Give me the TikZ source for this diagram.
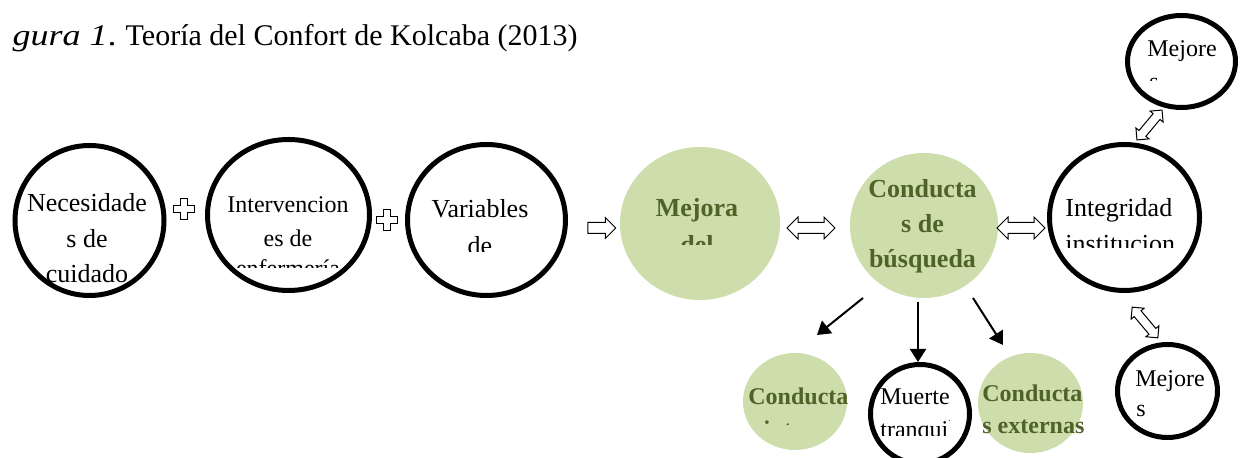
\documentclass[tikz,border=0pt]{standalone}
\usepackage{fontspec}
\setmainfont{Liberation Serif}
\usetikzlibrary{shapes.geometric,shapes.arrows,arrows.meta}
\definecolor{leaf}{HTML}{CDDDAC}
\definecolor{olive}{HTML}{4F6228}
\begin{document}
\begin{tikzpicture}[x=0.5pt,y=-0.5pt,
  ring/.style={ellipse, draw, line width=2.5pt, inner sep=0pt},
  ball/.style={ellipse, fill=leaf, draw=none, inner sep=0pt},
  big/.style={font=\fontsize{13}{15}\selectfont, inner sep=0pt, anchor=base},
  small/.style={font=\fontsize{12}{14}\selectfont, inner sep=0pt, anchor=base},
  bigb/.style={font=\fontsize{13}{15}\selectfont\bfseries, text=olive, inner sep=0pt, anchor=base},
  smallb/.style={font=\fontsize{12}{14}\selectfont\bfseries, text=olive, inner sep=0pt, anchor=base west},
  ttl/.style={font=\fontsize{15}{18}\selectfont, inner sep=0pt},
  arr/.style={line width=1pt, -{Triangle[length=6.5pt,width=8pt]}},
  blk/.style={draw, line width=0.5pt, fill=white, inner xsep=0pt, minimum width=0pt},
  sarr/.style={blk, single arrow, single arrow head extend=2.5pt, inner ysep=2.5pt},
  darr/.style={blk, double arrow, double arrow head extend=2.75pt, inner ysep=2.5pt},
  darrs/.style={blk, double arrow, double arrow head extend=2pt, inner ysep=2pt},
  plus/.pic={\draw[line width=0.5pt, fill=white] (-3.5,-10.5) -- (3.5,-10.5) -- (3.5,-3.5) -- (10.5,-3.5) -- (10.5,3.5) -- (3.5,3.5) -- (3.5,10.5) -- (-3.5,10.5) -- (-3.5,3.5) -- (-10.5,3.5) -- (-10.5,-3.5) -- (-3.5,-3.5) -- cycle;}
]
\useasboundingbox (0,0) rectangle (1249,458);

% title
\node[ttl, anchor=base east] (fig) at (117,46) {\scalebox{1.2}[1]{\textit{gura 1}.}};
\node[ttl, anchor=base east] (title) at (578,46) {Teoría del Confort de Kolcaba (2013)};

% circles
\node[ring, minimum width=74.5pt, minimum height=75pt] (nec) at (89.5,220.5) {};
\node[ring, minimum width=81pt, minimum height=75.5pt] (int) at (288.5,215) {};
\node[ring, minimum width=79pt, minimum height=75.5pt] (var) at (486.5,220) {};
\node[ball, minimum width=80pt, minimum height=76.5pt] (mej) at (700,223.5) {};
\node[ball, minimum width=74pt, minimum height=72.5pt] (cdb) at (924,225.5) {};
\node[ring, minimum width=75pt, minimum height=73pt] (integ) at (1124.5,217.5) {};
\node[ring, minimum width=54pt, minimum height=46pt] (mejT) at (1181.5,61.5) {};
\node[ring, minimum width=50pt, minimum height=46.5pt] (mejB) at (1167.5,391) {};
\node[ball, minimum width=52pt, minimum height=48.5pt] (ci) at (795,401.5) {};
\node[ring, minimum width=49.5pt, minimum height=49.5pt] (mue) at (920,414) {};
\node[ball, minimum width=52.5pt, minimum height=50pt] (ce) at (1030.5,403) {};

% texts
\node[big] (nec1) at (87,212) {Necesidade};
\node[big] (nec2) at (87,248) {s de};
\node[big] (nec3) at (87,283) {cuidado};

\node[small] (int1) at (288,213) {Intervencion};
\node[small] (int2) at (288,247) {es de};
\begin{scope}
\clip (200,250) rectangle (380,268);
\node[small] (int3) at (288,277) {enfermería};
\end{scope}

\node[big] (var1) at (480,218) {Variables};
\begin{scope}
\clip (400,230) rectangle (570,252);
\node[big] (var2) at (480,255) {de};
\end{scope}

\node[bigb] (mej1) at (697,217) {Mejora};
\begin{scope}
\clip (620,225) rectangle (780,245);
\node[bigb] (mej2) at (697,254) {del};
\end{scope}

\node[bigb] (cdb1) at (922.5,198) {Conducta};
\node[bigb] (cdb2) at (922.5,233) {s de};
\node[bigb] (cdb3) at (922.5,268) {búsqueda};

\node[big, anchor=base west] (integ1) at (1065,217) {Integridad};
\begin{scope}
\clip (1050,225) rectangle (1200,248);
\node[big, anchor=base west] (integ2) at (1065,253) {institucion};
\end{scope}

\node[small, anchor=base west] (mejT1) at (1147,57) {Mejore};
\begin{scope}
\clip (1130,65) rectangle (1235,81);
\node[small, anchor=base west] (mejT2) at (1149,90) {s};
\end{scope}

\node[small, anchor=base west] (mejB1) at (1135,387) {Mejore};
\node[small, anchor=base west] (mejB2) at (1136,417) {s};

\node[smallb] (ci1) at (748,405) {Conducta};
\begin{scope}
\clip (740,412) rectangle (850,425);
\node[smallb] (ci2) at (748,438) {s internas};
\end{scope}

\node[small, anchor=base west] (mue1) at (880,405) {Muerte};
\begin{scope}
\clip (875,412) rectangle (949,436);
\node[small, anchor=base west] (mue2) at (880,438) {tranquila};
\end{scope}

\node[smallb] (ce1) at (982,402) {Conducta};
\node[smallb] (ce2) at (982,434) {s externas};

% plus signs
\pic (p1) at (184,209) {plus};
\pic (p2) at (387,220) {plus};

% block arrows
\node[sarr, minimum height=14pt] (a34) at (599,228) {};
\node[darr, minimum height=24pt] (a45) at (811,228) {};
\node[darr, minimum height=24pt] (a56) at (1021,228) {};
\node[darrs, minimum height=19.5pt, rotate=50] (a6T) at (1149.5,125) {};
\node[darrs, minimum height=20pt, rotate=-50] (a6B) at (1145,322.5) {};

% line arrows from Conductas de búsqueda
\coordinate (s1) at (863,298);
\coordinate (e1) at (817,335);
\coordinate (s2) at (918,302);
\coordinate (s3) at (973,298);
\coordinate (e3) at (1003,345);
\draw[arr] (s1) -- (e1);
\draw[arr] (s2) -- (s2 |- mue.north);
\draw[arr] (s3) -- (e3);
\end{tikzpicture}
\end{document}
